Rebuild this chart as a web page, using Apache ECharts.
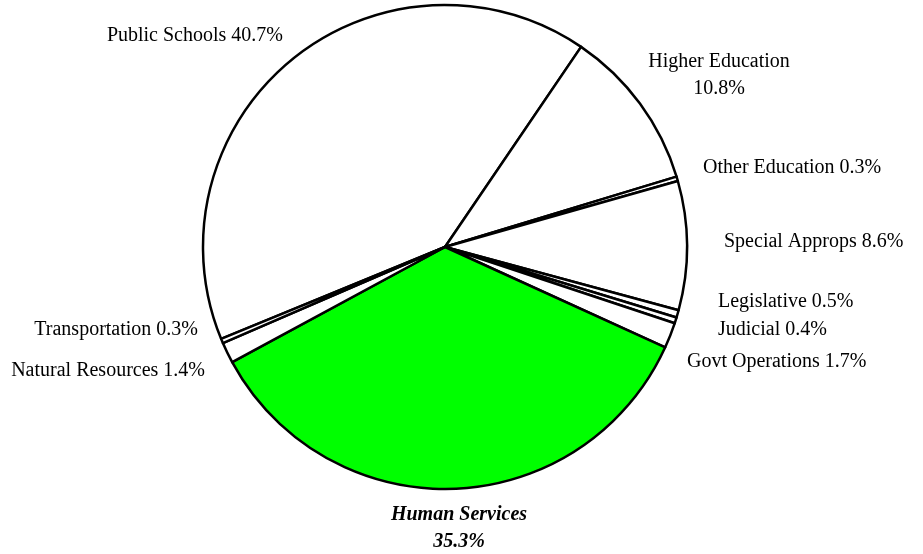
<!DOCTYPE html>
<html>
<head>
<meta charset="utf-8">
<title>General Fund Appropriations by Area</title>
<script src="https://cdn.jsdelivr.net/npm/echarts@6/dist/echarts.min.js"></script>
<style>
  html, body { margin: 0; padding: 0; background: #ffffff; }
  #chart { width: 923px; height: 554px; }
</style>
</head>
<body>
<div id="chart"></div>
<script>
// Budget areas, clockwise from the start of Public Schools
const categories = [
  'Public Schools', 'Higher Education', 'Other Education', 'Special Approps',
  'Legislative', 'Judicial', 'Govt Operations', 'Human Services',
  'Natural Resources', 'Transportation'
];
// Share of the total, percent
const shares = [40.7, 10.8, 0.3, 8.6, 0.5, 0.4, 1.7, 35.3, 1.4, 0.3];
// Areas whose label puts the percentage on a second line
const twoLineLabels = ['Higher Education', 'Human Services'];
// Area drawn highlighted
const highlighted = 'Human Services';

// Label anchor placement: [x, y, align]
const labelSpots = {
  'Public Schools':    [283, 36, 'right'],
  'Higher Education':  [719, 75, 'center'],
  'Other Education':   [703, 168, 'left'],
  'Special Approps':   [724, 242, 'left'],
  'Legislative':       [718, 302, 'left'],
  'Judicial':          [718, 330, 'left'],
  'Govt Operations':   [687, 362, 'left'],
  'Human Services':    [459, 528, 'center'],
  'Natural Resources': [205, 371, 'right'],
  'Transportation':    [198, 330, 'right']
};

const serif = "'Liberation Serif', 'Times New Roman', Times, serif";

const pieData = categories.map(function (name, i) {
  const item = {
    name: name,
    value: shares[i],
    itemStyle: { color: name === highlighted ? '#00ff00' : '#ffffff' }
  };
  if (name === highlighted) {
    item.label = { fontWeight: 'bold', fontStyle: 'italic' };
  }
  return item;
});

const chart = echarts.init(document.getElementById('chart'), null, { renderer: 'canvas' });

chart.setOption({
  animation: false,
  backgroundColor: '#ffffff',
  series: [{
    type: 'pie',
    center: [445, 247],
    radius: 242,
    startAngle: 202.3,
    clockwise: true,
    avoidLabelOverlap: false,
    silent: true,
    emphasis: { disabled: true },
    itemStyle: { borderColor: '#000000', borderWidth: 2.5 },
    label: {
      show: true,
      position: 'outside',
      fontFamily: serif,
      fontSize: 20,
      lineHeight: 27,
      color: '#000000',
      formatter: function (p) {
        const sep = twoLineLabels.indexOf(p.name) >= 0 ? '\n' : ' ';
        return p.name + sep + p.value.toFixed(1) + '%';
      }
    },
    labelLine: { show: false },
    labelLayout: function (params) {
      const spot = labelSpots[categories[params.dataIndex]];
      return {
        x: spot[0],
        y: spot[1],
        align: spot[2],
        verticalAlign: 'middle'
      };
    },
    data: pieData
  }]
});
</script>
</body>
</html>
